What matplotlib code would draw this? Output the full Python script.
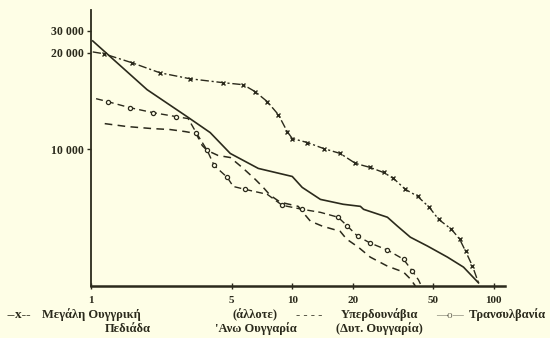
import numpy as np
import matplotlib
matplotlib.use("Agg")
import matplotlib.pyplot as plt

# rank (x) and population (y)
plain_x = [1.02, 1.16, 1.60, 2.20, 3.11, 4.54, 5.70, 6.55, 7.51, 8.52, 9.44, 10.0, 11.9, 14.3,
           17.3, 20.6, 24.4, 28.4, 31.8, 36.5, 41.9, 48.0, 53.3, 61.8, 67.8, 72.6, 78.6, 84.2]
plain_pop = [20370, 19870, 18630, 17340, 16610, 16150, 15920, 15140, 14100, 12850, 11370, 10820,
             10510, 10070, 9720, 9050, 8790, 8480, 8130, 7510, 7150, 6600, 6060, 5640, 5260,
             4820, 4330, 3840]

upper_x = [1.02, 1.90, 3.00, 3.91, 4.92, 6.78, 10.0, 11.2, 13.8, 17.9, 21.8, 22.6, 29.7, 33.3,
           38.6, 47.0, 59.0, 70.9, 84.2]
upper_pop = [24950, 15360, 12660, 11290, 9720, 8730, 8240, 7620, 6990, 6750, 6650, 6510, 6150,
             5770, 5330, 5000, 4620, 4300, 3840]

transdanubia_x = [1.17, 1.51, 2.01, 2.47, 2.94, 3.33, 3.57, 3.78, 4.28, 4.92, 5.64, 6.55, 7.17,
                  7.77, 8.72, 10.7, 11.3, 12.3, 14.1, 17.3, 18.6, 21.3, 24.4, 29.7, 35.7, 38.6, 40.9]
transdanubia_pop = [12040, 11790, 11620, 11540, 11370, 11210, 10290, 9930, 9580, 9440, 8790, 8070,
                    7620, 7200, 6850, 6650, 6370, 5980, 5770, 5560, 5260, 4960, 4620, 4330, 4150,
                    3950, 3755]

transylvania_x = [1.06, 1.21, 1.56, 2.03, 2.65, 3.04, 3.33, 3.78, 4.09, 4.75, 5.09, 5.84, 7.51,
                  8.92, 11.2, 13.8, 16.9, 18.8, 21.1, 24.4, 29.7, 35.7, 39.5, 42.4, 43.8]
transylvania_pop = [14400, 14100, 13500, 13030, 12660, 12480, 11290, 9930, 8920, 8190, 7670, 7510,
                    7250, 6700, 6510, 6370, 6150, 5770, 5370, 5110, 4860, 4550, 4180, 3920, 3755]

x_ticks = [1, 5, 10, 20, 50, 100]
x_labels = ["1", "5", "10", "20", "50", "100"]
y_ticks = [10000, 20000, 30000]
y_labels = ["10 000", "20 000", "30 000"]

BG = "#fefee6"
INK = "#2b2a1c"
plt.rcParams['font.family'] = ['Liberation Serif', 'DejaVu Serif']
plt.rcParams['font.weight'] = 'bold'

# the printed y axis is log-like but uneven: steeper spacing above 20 000
T2 = np.log10(20000)
P2 = (T2 - 4) * 322


def y_fwd(v):
    t = np.log10(np.clip(v, 1, None))
    return np.where(t < T2, (t - 4) * 322, P2 + (t - T2) * 125)


def y_inv(p):
    return np.where(p < P2, 10 ** (4 + p / 322), 10 ** (T2 + (p - P2) / 125))


fig = plt.figure(figsize=(5.5, 3.38), dpi=100, facecolor=BG)
ax = fig.add_axes([91 / 550, 1 - 286 / 338, 414 / 550, 276 / 338], facecolor=BG)
ax.set_xscale('log')
ax.set_yscale('function', functions=(y_fwd, y_inv))

ax.plot(plain_x, plain_pop, color=INK, lw=1.0, ls=(0, (6, 2, 1.5, 2)),
        marker='x', ms=3, mew=1, markevery=list(range(1, len(plain_x) - 1)), clip_on=False)
ax.plot(upper_x, upper_pop, color=INK, lw=1.2, clip_on=False)
ax.plot(transdanubia_x, transdanubia_pop, color=INK, lw=1.1, ls=(0, (5, 3.5)), clip_on=False)
ax.plot(transylvania_x, transylvania_pop, color=INK, lw=1.0, ls=(0, (5, 3)),
        marker='o', ms=3, mfc=BG, mew=0.9,
        markevery=[1, 2, 3, 4, 6, 7, 8, 9, 11, 13, 14, 16, 17, 18, 19, 20, 21, 22], clip_on=False)

ax.set_xlim(1, 114)
ax.set_ylim(3755, 44200)
ax.set_xticks(x_ticks)
ax.set_xticklabels(x_labels)
ax.minorticks_off()
ax.set_yticks(y_ticks)
ax.set_yticklabels(y_labels)
ax.tick_params(axis='x', direction='inout', length=4, width=1, pad=5, labelsize=8, colors=INK)
ax.tick_params(axis='y', direction='out', length=3, width=1, pad=2, labelsize=8.5, colors=INK)

for s in ['top', 'right']:
    ax.spines[s].set_visible(False)
ax.spines['left'].set_linewidth(1.3)
ax.spines['bottom'].set_linewidth(1.8)
ax.spines['left'].set_color(INK)
ax.spines['bottom'].set_color(INK)

# legend as text, laid out like the printed key
fs = 9
r1 = 1 - 315 / 338
r2 = 1 - 329 / 338
fig.text(6 / 550, r1, "--x--", fontsize=fs + 0.5, color=INK, va='center')
fig.text(42 / 550, r1, "Μεγάλη Ουγγρική", fontsize=fs, color=INK, va='center')
fig.text(128 / 550, r2, "Πεδιάδα", fontsize=fs, color=INK, va='center', ha='center')
fig.text(255 / 550, r1, "(άλλοτε)", fontsize=fs, color=INK, va='center', ha='center')
fig.text(256 / 550, r2, "'Ανω Ουγγαρία", fontsize=fs, color=INK, va='center', ha='center')
fig.text(296 / 550, r1, "- - - -", fontsize=fs, color=INK, va='center')
fig.text(379 / 550, r1, "Υπερδουνάβια", fontsize=fs, color=INK, va='center', ha='center')
fig.text(379 / 550, r2, "(Δυτ. Ουγγαρία)", fontsize=fs, color=INK, va='center', ha='center')
fig.text(436 / 550, r1, "—o—", fontsize=8, color="#6b6a5c", va='center', weight='normal')
fig.text(546 / 550, r1, "Τρανσυλβανία", fontsize=fs, color=INK, va='center', ha='right')

fig.savefig("out.png", dpi=100, facecolor=BG)
